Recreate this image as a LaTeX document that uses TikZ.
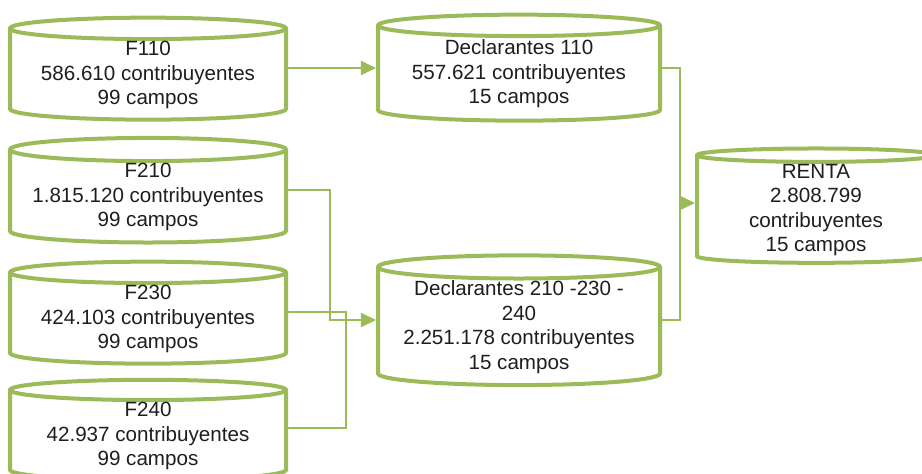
\documentclass[tikz,border=0pt]{standalone}
\usepackage{fontspec}
\setmainfont{Liberation Sans}
\usepackage{tikz}
\usetikzlibrary{shapes.geometric, arrows.meta, positioning, calc}
\definecolor{cLeaf}{RGB}{155,187,89}
\definecolor{cInk}{RGB}{30,30,30}
\tikzset{
	dbase/.style ={cylinder, shape border rotate=90, aspect=0.1, draw=cLeaf, line width=2pt, fill=white, text=cInk, align=center, inner sep=0pt},
	link/.style  ={draw=cLeaf, line width=1pt},
	sig/.style   ={link, -{Triangle[length=7.5pt, width=7pt]}},
	lift/.style  ={yshift=3.5pt},
}

\begin{document}
\begin{tikzpicture}[x=0.5pt, y=-0.5pt, font=\fontsize{10.3}{12.3}\selectfont]
	\useasboundingbox (0,0) rectangle (922,473);
	% sources
	\node[dbase, minimum width=138pt, minimum height=50pt] (f110) at (148,75) {F110\\586.610 contribuyentes\\99 campos};
	\node[dbase, minimum width=138pt, minimum height=50pt] (f210) at (148,197) {F210\\1.815.120 contribuyentes\\99 campos};
	\node[dbase, minimum width=138pt, minimum height=50pt] (f230) at (148,319) {F230\\424.103 contribuyentes\\99 campos};
	\node[dbase, minimum width=138pt, minimum height=50pt] (f240) at (148,436) {F240\\42.937 contribuyentes\\99 campos};
	% intermediate
	\node[dbase, minimum width=141pt, minimum height=53pt] (dec110) at (519,74) {Declarantes 110\\557.621 contribuyentes\\15 campos};
	\node[dbase, minimum width=141pt, minimum height=58pt] (dec2) at (519,327) {Declarantes 210 -230 -\\240\\2.251.178 contribuyentes\\15 campos};
	% result
	\node[dbase, minimum width=119pt, minimum height=55pt] (renta) at (816,210) {RENTA\\2.808.799\\contribuyentes\\15 campos};
	% connector ends and elbow points
	\coordinate (f110r) at ([lift]f110.east);
	\coordinate (f210r) at ([lift]f210.east);
	\coordinate (f230r) at ([lift]f230.east);
	\coordinate (f240r) at ([yshift=4pt]f240.east);
	\coordinate (dec110r) at ([yshift=3pt]dec110.east);
	\coordinate (dec2l) at ([lift]dec2.west);
	\coordinate (dec2r) at ([lift]dec2.east);
	\coordinate (rental) at ([lift]renta.west);
	\coordinate (j1) at (330,0);
	\coordinate (j2) at (346,0);
	\coordinate (j3) at (680,0);
	\draw[sig] (f110r) -- (f110r -| dec110.west);
	\draw[sig] (f210r) -| (j1 |- dec2l) -- (dec2l);
	\draw[link] (f230r) -| (j2 |- f240r) -- (f240r);
	\draw[link] (dec110r) -| (j3 |- dec2r) -- (dec2r);
	\draw[sig] (j3 |- rental) -- (rental);
\end{tikzpicture}
\end{document}
